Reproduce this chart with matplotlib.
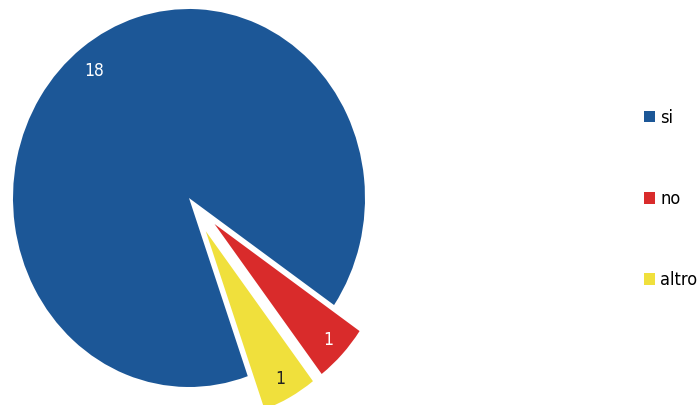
import matplotlib.pyplot as plt
from matplotlib.patches import Patch

labels = ['si', 'no', 'altro']
values = [18, 1, 1]
colors = ['#1c5797', '#d92b2b', '#f0e03c']
text_colors = ['white', 'white', '#222222']
explode = [0, 0.2, 0.2]

plt.rcParams['font.family'] = ['Liberation Sans Narrow', 'DejaVu Sans']
plt.rcParams['font.stretch'] = 'condensed'

fig = plt.figure(figsize=(7, 4.05), dpi=100)
ax = fig.add_axes([0, 0, 1, 1])

wedges, texts, autotexts = ax.pie(values, colors=colors, explode=explode,
                                  startangle=289.5, counterclock=False,
                                  autopct=lambda p: '%d' % round(p * sum(values) / 100),
                                  pctdistance=0.89, textprops={'fontsize': 12.5})
for t, c in zip(autotexts, text_colors):
    t.set_color(c)
x, y = autotexts[0].get_position()
autotexts[0].set_position((x * 0.99, y * 0.95))

# slightly stretched pie like the original
ax.set_aspect('auto')
ax.set_xlim(-189 / 176, (700 - 189) / 176)
ax.set_ylim((198 - 405) / 189, 198 / 189)
ax.axis('off')

handles = [Patch(facecolor=c, label=l) for c, l in zip(colors, labels)]
fig.legend(handles=handles, loc='center left', bbox_to_anchor=(0.915, 0.508),
           frameon=False, fontsize=13, labelspacing=3.5,
           handlelength=0.6, handleheight=0.6, handletextpad=0.3,
           borderaxespad=0, borderpad=0.2)

plt.savefig('out.png', dpi=100)
